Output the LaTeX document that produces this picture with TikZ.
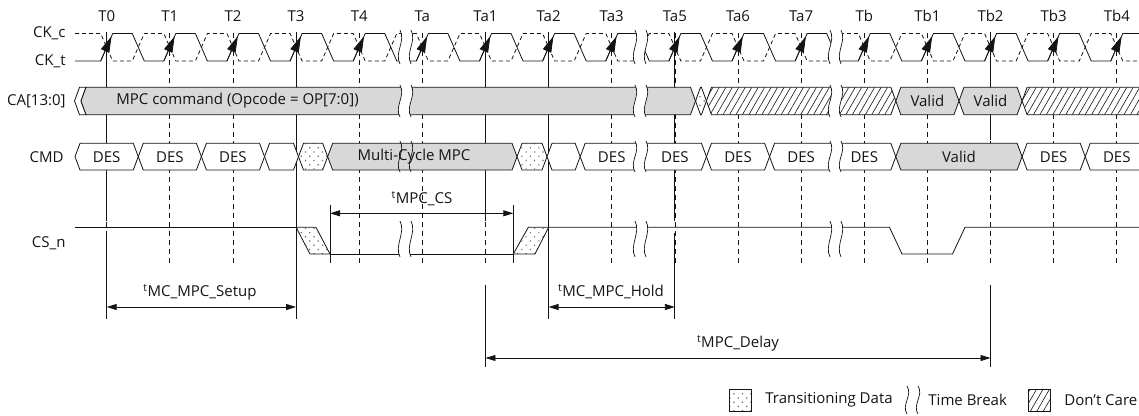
\documentclass[tikz,border=0pt]{standalone}
\usepackage{fontspec}
\setmainfont{Open Sans}
\usetikzlibrary{arrows.meta,patterns.meta,calc}
\definecolor{busgray}{RGB}{216,216,216}
\definecolor{ink}{RGB}{20,20,20}
\newcommand{\Tpos}[1]{106.7+63.13*#1}
\newcommand{\hexseg}[5]{%
  \path[#1] ({#2},{(#4+#5)/2}) -- ({#2+5},{#4}) -- ({#3-5},{#4}) -- ({#3},{(#4+#5)/2}) -- ({#3-5},{#5}) -- ({#2+5},{#5}) -- cycle;}
\newcommand{\tbrk}[4]{%
  \path[#4] (#1,#2) .. controls ({#1+6},{#2+(#3-#2)/3}) and ({#1-6},{#2+2*(#3-#2)/3}) .. (#1,#3) -- ({#1+11},#3) .. controls ({#1+5},{#2+2*(#3-#2)/3}) and ({#1+17},{#2+(#3-#2)/3}) .. ({#1+11},#2) -- cycle;
  \draw[brkline] (#1,#2) .. controls ({#1+6},{#2+(#3-#2)/3}) and ({#1-6},{#2+2*(#3-#2)/3}) .. (#1,#3);
  \draw[brkline] ({#1+11},#2) .. controls ({#1+17},{#2+(#3-#2)/3}) and ({#1+5},{#2+2*(#3-#2)/3}) .. ({#1+11},#3);}
\begin{document}
\begin{tikzpicture}[x=1pt,y=-1pt,line width=0.8pt,
  font=\fontsize{15}{17}\selectfont,
  busw/.style={fill=white,draw=ink,line width=0.8pt},
  busg/.style={fill=busgray,draw=ink,line width=0.8pt},
  trans/.style={preaction={fill=white},pattern={Dots[angle=45,distance=6pt,radius=0.8pt]},pattern color=gray!80!black,draw=ink,line width=0.8pt},
  dc/.style={preaction={fill=white},pattern={Lines[angle=60,distance=5.6pt,line width=0.6pt]},pattern color=ink,draw=ink,line width=0.8pt},
  tick/.style={draw=ink,line width=0.7pt,dash pattern=on 5pt off 4pt},
  ref/.style={draw=ink,line width=0.8pt},
  dim/.style={draw=ink,line width=0.8pt,>={Triangle[length=10pt,width=6pt]},<->},
  clk/.style={draw=ink,line width=0.8pt},
  clkc/.style={draw=ink,line width=0.8pt,dash pattern=on 4pt off 3pt},
  edgearrow/.style={draw=ink,line width=0.8pt,>={Triangle[length=16pt,width=9pt]},->},
  siglabel/.style={anchor=east,inner sep=0pt},
  txt/.style={inner sep=0pt,text=ink},
  brkline/.style={draw=ink,line width=0.7pt},
]
\useasboundingbox (0,0) rectangle (1139,415);
\begin{scope}
\clip (0,0) rectangle (1139,415);
% time labels and reference lines
\foreach \i/\n in {0/T0,1/T1,2/T2,3/T3,4/T4,5/Ta,6/Ta1,7/Ta2,8/Ta3,9/Ta5,10/Ta6,11/Ta7,12/Tb,13/Tb1,14/Tb2,15/Tb3,16/Tb4}{
  \node[txt] (lab\n) at ({\Tpos{\i}},16) {\n};
  \draw[tick] ({\Tpos{\i}},33) -- ({\Tpos{\i}},266);
}
\draw[ref] ({\Tpos{0}},32) -- ({\Tpos{0}},221) ({\Tpos{0}},233) -- ({\Tpos{0}},319);
\draw[ref] ({\Tpos{3}},32) -- ({\Tpos{3}},319);
\draw[ref] ({\Tpos{6}},32) -- ({\Tpos{6}},221) ({\Tpos{6}},285) -- ({\Tpos{6}},367);
\draw[ref] ({\Tpos{7}},32) -- ({\Tpos{7}},319);
\draw[ref] ({\Tpos{9}},32) -- ({\Tpos{9}},221) ({\Tpos{9}},233) -- ({\Tpos{9}},319);
\draw[ref] ({\Tpos{14}},32) -- ({\Tpos{14}},140) ({\Tpos{14}},285) -- ({\Tpos{14}},367);
% signal labels
\node[siglabel,txt] (lckc) at (66,33.5) {CK\_c};
\node[siglabel,txt] (lckt) at (66,61) {CK\_t};
\node[siglabel,txt] (lca) at (66,101) {CA[13:0]};
\node[siglabel,txt] (lcmd) at (64,156.7) {CMD};
\node[siglabel,txt] (lcs) at (66,243) {CS\_n};
% clocks
\draw[clk] (75,61) foreach \i in {0,...,16}{ -- ({\Tpos{\i}-6},61) -- ({\Tpos{\i}+6},33.5) -- ({\Tpos{\i}+31.565-6},33.5) -- ({\Tpos{\i}+31.565+6},61) };
\draw[clkc] (75,33.5) foreach \i in {0,...,16}{ -- ({\Tpos{\i}-6},33.5) -- ({\Tpos{\i}+6},61) -- ({\Tpos{\i}+31.565-6},61) -- ({\Tpos{\i}+31.565+6},33.5) };
\foreach \i in {0,...,16}{
  \draw[edgearrow] ({\Tpos{\i}-6},61) -- ({\Tpos{\i}+4.8},36.3);
}
% CA bus
\path[busw] (74.5,101) -- (79.5,87.3) -- (86,87.3) -- (81,101) -- (86,114.7) -- (79.5,114.7) -- cycle;
\hexseg{busg}{81}{695.5}{87.3}{114.7}
\hexseg{trans}{695.5}{\Tpos{9.5}}{87.3}{114.7}
\hexseg{dc}{\Tpos{9.5}}{\Tpos{12.5}}{87.3}{114.7}
\hexseg{busg}{\Tpos{12.5}}{\Tpos{13.5}}{87.3}{114.7}
\hexseg{busg}{\Tpos{13.5}}{\Tpos{14.5}}{87.3}{114.7}
\hexseg{dc}{\Tpos{14.5}}{1175}{87.3}{114.7}
% CMD bus
\hexseg{busw}{75}{\Tpos{0.5}}{143.3}{170}
\hexseg{busw}{\Tpos{0.5}}{\Tpos{1.5}}{143.3}{170}
\hexseg{busw}{\Tpos{1.5}}{\Tpos{2.5}}{143.3}{170}
\hexseg{busw}{\Tpos{2.5}}{298.5}{143.3}{170}
\hexseg{trans}{298.5}{\Tpos{3.5}}{143.3}{170}
\hexseg{busg}{\Tpos{3.5}}{\Tpos{6.5}}{143.3}{170}
\hexseg{trans}{\Tpos{6.5}}{547}{143.3}{170}
\hexseg{busw}{547}{\Tpos{7.5}}{143.3}{170}
\hexseg{busw}{\Tpos{7.5}}{\Tpos{9.5}}{143.3}{170}
\hexseg{busw}{\Tpos{9.5}}{\Tpos{10.5}}{143.3}{170}
\hexseg{busw}{\Tpos{10.5}}{\Tpos{12.5}}{143.3}{170}
\hexseg{busg}{\Tpos{12.5}}{\Tpos{14.5}}{143.3}{170}
\hexseg{busw}{\Tpos{14.5}}{\Tpos{15.5}}{143.3}{170}
\hexseg{busw}{\Tpos{15.5}}{1175}{143.3}{170}
% CS_n
\draw[clk] (75,227.3) -- ({\Tpos{3}},227.3);
\path[trans] ({\Tpos{3}},227.3) -- (316,227.3) -- (330,254) -- (310,254) -- cycle;
\draw[clk] (330,254) -- (513.3,254);
\path[trans] (513.3,254) -- (535,254) -- ({\Tpos{7}},227.3) -- (528.3,227.3) -- cycle;
\draw[clk] ({\Tpos{7}},227.3) -- (889.5,227.3) -- (902,254) -- (952.5,254) -- (965,227.3) -- (1150,227.3);
% time breaks
\foreach \bx in {400,635,830}{
  \tbrk{\bx}{30}{64}{fill=white}
  \tbrk{\bx}{85}{117}{fill=white}
  \tbrk{\bx}{221}{257}{fill=white}
}
\tbrk{400}{141}{172}{}
\tbrk{635}{141}{172}{fill=white}
\tbrk{830}{141}{172}{fill=white}
% bus texts
\node[txt] (tca) at (237.5,101) {MPC command (Opcode = OP[7:0])};
\node[txt] (tcav1) at ({\Tpos{13}},101) {Valid};
\node[txt] (tcav2) at ({\Tpos{14}},101) {Valid};
\foreach \i in {0,1,2,8,9,10,11,12,15,16}{
  \node[txt] (des\i) at ({\Tpos{\i}},156.7) {DES};
}
\node[txt] (tmc) at (414,156.7) {Multi-Cycle MPC};
\node[txt] (tcmdv) at ({\Tpos{13.5}},156.7) {Valid};
% tMPC_CS
\coordinate (csL) at (330,213.3);
\coordinate (csR) at (513.3,213.3);
\draw[ref] (330,205) -- (330,263);
\draw[ref] (513.3,205) -- (513.3,263);
\draw[dim] (csL) -- (csR);
\node[txt] (lmpccs) at (422,199) {\textsuperscript{t}MPC\_CS};
% setup / hold / delay
\coordinate (suL) at ({\Tpos{0}},307);
\coordinate (suR) at ({\Tpos{3}},307);
\draw[dim] (suL) -- (suR);
\node[txt] (lsetup) at (200,292) {\textsuperscript{t}MC\_MPC\_Setup};
\coordinate (hoL) at ({\Tpos{7}},307);
\coordinate (hoR) at ({\Tpos{9}},307);
\draw[dim] (hoL) -- (hoR);
\node[txt] (lhold) at (611,292) {\textsuperscript{t}MC\_MPC\_Hold};
\coordinate (deL) at ({\Tpos{6}},358);
\coordinate (deR) at ({\Tpos{14}},358);
\draw[dim] (deL) -- (deR);
\node[txt] (ldelay) at (738,343) {\textsuperscript{t}MPC\_Delay};
% legend
\path[trans] (729,389) rectangle (751,411);
\node[txt,anchor=west] (legtd) at (765,400) {Transitioning Data};
\tbrk{907}{386}{414}{}
\node[txt,anchor=west] (legtb) at (928,400) {Time Break};
\path[dc] (1028,389) rectangle (1050,411);
\node[txt,anchor=west] (legdc) at (1064,400) {Don’t Care};
\end{scope}
\end{tikzpicture}
\end{document}
